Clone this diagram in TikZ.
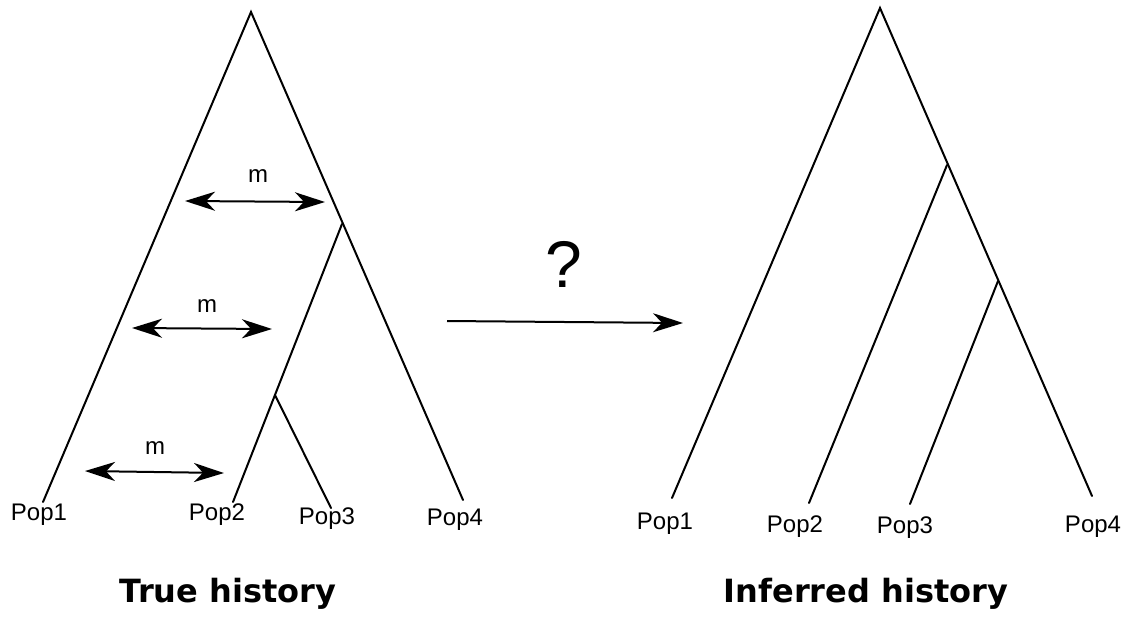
\documentclass[tikz,border=0pt]{standalone}
\usepackage{fontspec}
\newfontfamily\arialf{Liberation Sans}
\newfontfamily\verdf{DejaVu Sans}
\usetikzlibrary{arrows.meta}
\begin{document}
\begin{tikzpicture}[x=1pt,y=-1pt,
  branch/.style={line width=2pt, line cap=round},
  mig/.style={line width=2pt, {Stealth[length=30pt,width=19pt,inset=9pt]}-{Stealth[length=30pt,width=19pt,inset=9pt]}},
  bigarrow/.style={line width=2pt, -{Stealth[length=30pt,width=19pt,inset=9pt]}},
  lab/.style={font=\arialf\fontsize{24}{28}\selectfont, inner sep=0pt},
  mlab/.style={font=\arialf\fontsize{24}{28}\selectfont, inner sep=0pt},
  title/.style={font=\verdf\bfseries\fontsize{32}{37}\selectfont, inner sep=0pt}]
\useasboundingbox (0,0) rectangle (1131,621);
% left tree
\coordinate (Lroot) at (251,12);
\coordinate (L1) at (43,502);
\coordinate (L4) at (463,500);
\coordinate (La) at (342,224);
\coordinate (L2) at (233,502);
\coordinate (Lb) at (275,395);
\coordinate (L3) at (331,508);
\draw[branch] (L1) -- (Lroot) -- (L4);
\draw[branch] (La) -- (L2);
\draw[branch] (Lb) -- (L3);
% migration arrows
\coordinate (m1a) at (185,201);
\coordinate (m1b) at (325,202);
\coordinate (m2a) at (132,328);
\coordinate (m2b) at (272,329);
\coordinate (m3a) at (85,471);
\coordinate (m3b) at (224,473);
\draw[mig] (m1a) -- (m1b);
\draw[mig] (m2a) -- (m2b);
\draw[mig] (m3a) -- (m3b);
\node[mlab] (mt1) at (258,176) {m};
\node[mlab] (mt2) at (207,306) {m};
\node[mlab] (mt3) at (155,448) {m};
% left labels
\node[lab] (lp1) at (39,515) {Pop1};
\node[lab] (lp2) at (217,515) {Pop2};
\node[lab] (lp3) at (327,519) {Pop3};
\node[lab] (lp4) at (455,520) {Pop4};
% middle arrow
\coordinate (ma) at (447,321);
\coordinate (mb) at (683,323);
\draw[bigarrow] (ma) -- (mb);
\node[font=\arialf\fontsize{66}{70}\selectfont, inner sep=0pt] (q) at (564,264) {?};
% right tree
\coordinate (Rroot) at (880,8);
\coordinate (R1) at (672,498);
\coordinate (R4) at (1092,496);
\coordinate (Ra) at (947,165);
\coordinate (R2) at (809,503);
\coordinate (Rb) at (998,281);
\coordinate (R3) at (910,504);
\draw[branch] (R1) -- (Rroot) -- (R4);
\draw[branch] (Ra) -- (R2);
\draw[branch] (Rb) -- (R3);
\node[lab] (rp1) at (665,524) {Pop1};
\node[lab] (rp2) at (795,527) {Pop2};
\node[lab] (rp3) at (905,528) {Pop3};
\node[lab] (rp4) at (1093,527) {Pop4};
% titles
\node[title] (t1) at (228,594) {True history};
\node[title] (t2) at (866,594) {Inferred history};
\end{tikzpicture}
\end{document}
